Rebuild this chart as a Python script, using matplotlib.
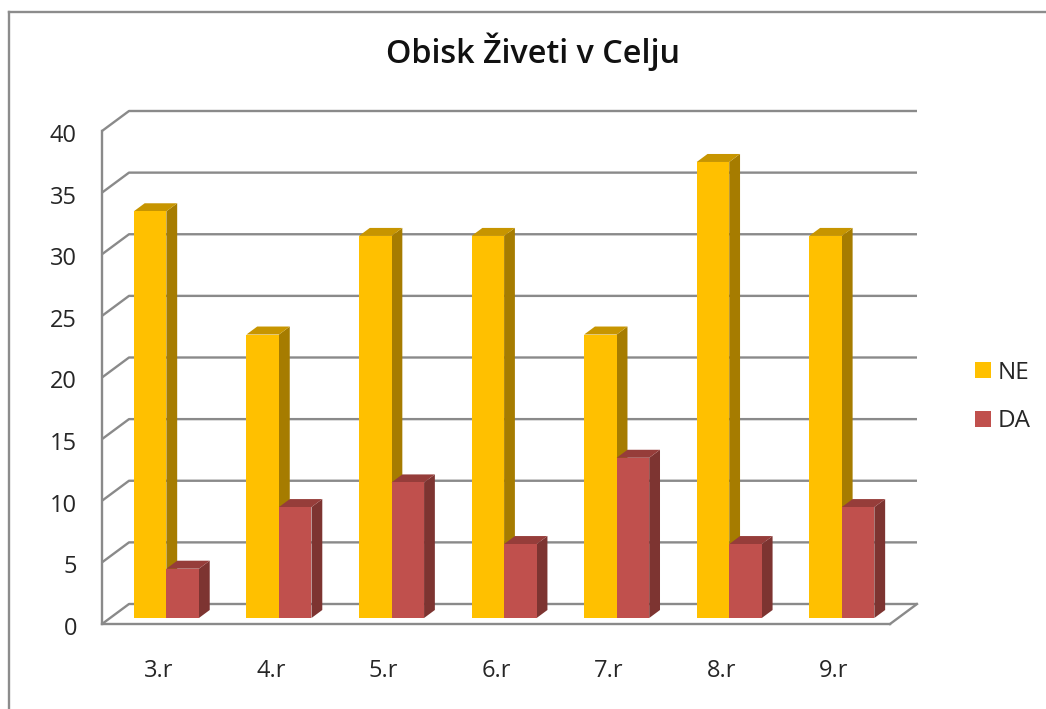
import matplotlib
matplotlib.use("Agg")
import matplotlib.pyplot as plt
from matplotlib.lines import Line2D
from matplotlib.patches import Patch
from matplotlib.transforms import ScaledTranslation

categories = ["3.r", "4.r", "5.r", "6.r", "7.r", "8.r", "9.r"]
ne_values = [33, 23, 31, 31, 23, 37, 31]
da_values = [4, 9, 11, 6, 13, 6, 9]
y_ticks = [0, 5, 10, 15, 20, 25, 30, 35, 40]
title = "Obisk Živeti v Celju"

W, H = 1046, 709
FONT = "Open Sans"
GRID = "#8a8a8a"
TEXT = "#262626"
plt.rcParams["font.family"] = [FONT, "DejaVu Sans"]

fig = plt.figure(figsize=(W / 100, H / 100), dpi=100, facecolor="white")
ax = fig.add_axes([102 / W, (H - 624) / H, 788 / W, 493 / H])
ax.set_xlim(-0.5, 6.5)
ax.set_ylim(0, 40)
ax.patch.set_visible(False)

# oblique projection: one unit of depth, expressed in data units
DX = 27 / (788 / 7)
DY = 20 / (493 / 40)


def proj(x, v, d):
    return x + d * DX, v + d * DY


# back wall gridlines with their diagonal on the side wall
for v in y_ticks:
    xs, ys = zip(proj(-0.5, v, 0), proj(-0.5, v, 1), proj(6.5, v, 1))
    ax.plot(xs, ys, color=GRID, lw=1.7, clip_on=False, zorder=1, solid_capstyle="butt")
xs, ys = zip(proj(6.5, 0, 0), proj(6.5, 0, 1))
ax.plot(xs, ys, color=GRID, lw=1.7, clip_on=False, zorder=1)

BAR_W = 0.289
D0, D1 = 0.3, 0.7


def bar3d(x, v, front, side, top, z):
    l, r = x, x + BAR_W
    (fx, fy) = proj(l, 0, D0)
    ax.bar(fx, v, width=BAR_W, bottom=fy, align="edge", color=front, lw=0, zorder=z + 0.2, clip_on=False)
    pts = [proj(r, 0, D0), proj(r, 0, D1), proj(r, v, D1), proj(r, v, D0)]
    ax.fill(*zip(*pts), color=side, lw=0, zorder=z, clip_on=False)
    pts = [proj(l, v, D0), proj(r, v, D0), proj(r, v, D1), proj(l, v, D1)]
    ax.fill(*zip(*pts), color=top, lw=0, zorder=z + 0.1, clip_on=False)


for i, (ne, da) in enumerate(zip(ne_values, da_values)):
    bar3d(i - BAR_W, ne, "#FFC000", "#A67C00", "#C79500", 2 + i)
    bar3d(i, da, "#C0504D", "#7D3431", "#963D3A", 2.5 + i)

for s in ("top", "right"):
    ax.spines[s].set_visible(False)
for s in ("left", "bottom"):
    ax.spines[s].set_color(GRID)
    ax.spines[s].set_linewidth(1.7)
    ax.spines[s].set_zorder(1.5)

ax.set_xticks(range(len(categories)))
ax.set_xticklabels(categories)
ax.set_yticks(y_ticks)
ax.tick_params(axis="x", length=0, pad=25, labelsize=17, labelcolor=TEXT)
ax.tick_params(axis="y", length=0, pad=18, labelsize=17, labelcolor=TEXT)
shift = ScaledTranslation(0, -2 / 100, fig.dpi_scale_trans)
for lab in ax.get_yticklabels():
    lab.set_transform(lab.get_transform() + shift)

fig.text(532.5 / W, 1 - 52 / H, title, ha="center", va="center", fontsize=23.3, fontweight="semibold", color="#111111")

handles = [Patch(facecolor="#FFC000", label="NE"), Patch(facecolor="#C0504D", label="DA")]
leg = fig.legend(handles=handles, loc="center left", bbox_to_anchor=(975 / W, 1 - 397 / H), frameon=False,
                 fontsize=17.5, labelcolor=TEXT, handlelength=0.64, handleheight=0.64,
                 handletextpad=0.3, labelspacing=1.0, borderpad=0, borderaxespad=0)

# outer chart frame, visible on the top and left only
fig.add_artist(Line2D([9 / W, 9 / W], [0, 1 - 12 / H], color="#8c8c8c", lw=1.7, transform=fig.transFigure))
fig.add_artist(Line2D([9 / W, 1], [1 - 12 / H, 1 - 12 / H], color="#8c8c8c", lw=1.7, transform=fig.transFigure))

fig.savefig("out.png", dpi=100, facecolor="white")
